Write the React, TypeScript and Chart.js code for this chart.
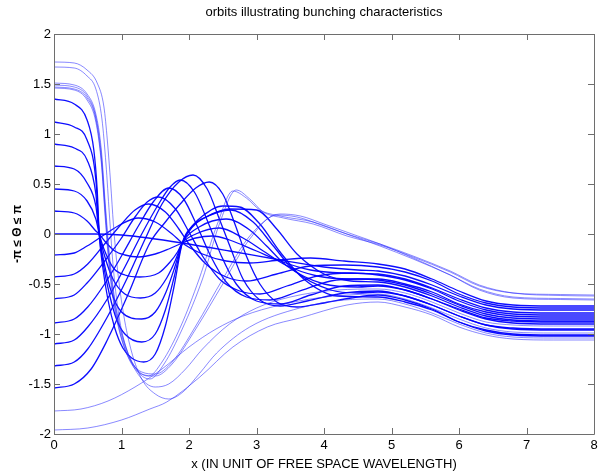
import React, { useEffect, useRef } from "react";
import { Chart, registerables } from "chart.js";

Chart.register(...registerables);

// ---- axis ticks ----
const xTicks = [0, 1, 2, 3, 4, 5, 6, 7, 8];
const yTicks = [-2, -1.5, -1, -0.5, 0, 0.5, 1, 1.5, 2];
const yTickLabels = ["-2", "-1.5", "-1", "-0.5", "0", "0.5", "1", "1.5", "2"];

const titleText = "orbits illustrating bunching characteristics";
const xTitle = "x (IN UNIT OF FREE SPACE WAVELENGTH)";
const yTitle = "-\u03C0 \u2264 \u0398 \u2264 \u03C0";

// ---- orbits: [x, theta] pairs ----
// thin orbits starting high
const orbitH1 = [[0,1.72],[0.3,1.71],[0.49,1.64],[0.64,1.51],[0.74,1.27],[0.79,0.94],[0.84,0.5],[0.88,0.1],[0.94,-0.35],[1.03,-0.8],[1.15,-1.18],[1.3,-1.45],[1.5,-1.6],[1.7,-1.65],[1.91,-1.58],[2.15,-1.4],[2.41,-1.19],[2.9,-0.93],[3.64,-0.74],[4.3,-0.66],[4.8,-0.65],[5.2,-0.7],[5.6,-0.79],[6.0,-0.9],[6.4,-0.99],[6.8,-1.03],[7.4,-1.04],[8,-1.04]];
const orbitH2 = [[0,1.67],[0.3,1.66],[0.49,1.58],[0.62,1.45],[0.71,1.15],[0.77,0.7],[0.82,0.2],[0.88,-0.35],[0.97,-0.85],[1.1,-1.2],[1.3,-1.45],[1.5,-1.53],[1.7,-1.5],[1.95,-1.35],[2.2,-1.15],[2.6,-0.9],[3.0,-0.74],[3.5,-0.63],[4.2,-0.56],[4.8,-0.55],[5.2,-0.59],[5.6,-0.68],[6.0,-0.79],[6.4,-0.88],[6.8,-0.91],[7.4,-0.92],[8,-0.92]];
const orbitH3 = [[0,1.51],[0.3,1.49],[0.49,1.4],[0.62,1.2],[0.7,0.85],[0.76,0.3],[0.82,-0.2],[0.9,-0.65],[1.05,-1.1],[1.25,-1.38],[1.42,-1.45],[1.63,-1.3],[1.9,-0.95],[2.2,-0.45],[2.45,0.1],[2.7,0.44],[2.9,0.35],[3.1,0.22],[3.4,0.16],[3.84,0.1],[4.34,-0.02],[4.83,-0.11],[5.32,-0.23],[5.87,-0.38],[6.3,-0.52],[6.8,-0.59],[7.5,-0.605],[8,-0.61]];
const orbitH4 = [[0,1.49],[0.3,1.47],[0.49,1.38],[0.62,1.17],[0.7,0.8],[0.76,0.25],[0.82,-0.25],[0.9,-0.68],[1.05,-1.12],[1.25,-1.37],[1.4,-1.42],[1.6,-1.28],[1.88,-0.92],[2.15,-0.45],[2.42,0.1],[2.65,0.43],[2.85,0.36],[3.05,0.24],[3.35,0.18],[3.84,0.12],[4.34,0.0],[4.83,-0.1],[5.32,-0.22],[5.87,-0.37],[6.3,-0.51],[6.8,-0.59],[7.5,-0.615],[8,-0.62]];
const orbitH5 = [[0,1.47],[0.3,1.45],[0.49,1.36],[0.62,1.15],[0.7,0.75],[0.76,0.2],[0.82,-0.3],[0.9,-0.72],[1.05,-1.15],[1.3,-1.4],[1.5,-1.42],[1.75,-1.3],[2.1,-0.95],[2.5,-0.5],[2.9,-0.05],[3.3,0.19],[3.6,0.17],[4.0,0.08],[4.5,-0.04],[4.83,-0.12],[5.32,-0.25],[5.87,-0.41],[6.3,-0.55],[6.8,-0.63],[7.5,-0.645],[8,-0.65]];
const orbitH6 = [[0,1.46],[0.3,1.44],[0.49,1.34],[0.62,1.12],[0.7,0.72],[0.76,0.15],[0.82,-0.35],[0.9,-0.75],[1.05,-1.15],[1.3,-1.38],[1.5,-1.4],[1.75,-1.28],[2.1,-0.92],[2.5,-0.45],[2.9,-0.02],[3.35,0.2],[3.65,0.18],[4.0,0.1],[4.5,-0.02],[4.83,-0.1],[5.32,-0.24],[5.87,-0.41],[6.3,-0.56],[6.8,-0.64],[7.5,-0.655],[8,-0.66]];
// dark orbits, starting above zero
const orbitP6 = [[0,1.35],[0.3,1.3],[0.49,1.14],[0.59,0.84],[0.64,0.44],[0.67,0.0],[0.72,-0.32],[0.8,-0.66],[0.9,-0.94],[1.02,-1.14],[1.15,-1.24],[1.33,-1.28],[1.5,-1.2],[1.65,-0.92],[1.78,-0.52],[1.9,-0.09],[2.05,0.08],[2.25,0.17],[2.6,0.25],[3.0,0.24],[3.3,0.05],[3.6,-0.2],[4.0,-0.4],[4.4,-0.47],[4.8,-0.48],[5.2,-0.53],[5.6,-0.62],[6.0,-0.73],[6.4,-0.82],[6.8,-0.86],[7.4,-0.87],[8,-0.87]];
const orbitP5 = [[0,1.12],[0.3,1.07],[0.49,0.94],[0.62,0.54],[0.67,0.0],[0.73,-0.3],[0.82,-0.6],[0.93,-0.86],[1.05,-1.0],[1.3,-1.08],[1.5,-1.0],[1.65,-0.76],[1.78,-0.43],[1.9,-0.09],[2.05,0.08],[2.2,0.18],[2.5,0.28],[2.75,0.27],[3.05,0.1],[3.35,-0.18],[3.7,-0.45],[4.2,-0.62],[4.8,-0.63],[5.2,-0.68],[5.6,-0.76],[6.0,-0.88],[6.4,-0.96],[6.8,-1.0],[7.4,-1.01],[8,-1.01]];
const orbitP4 = [[0,0.9],[0.3,0.86],[0.49,0.74],[0.62,0.4],[0.67,0.0],[0.74,-0.28],[0.85,-0.58],[1.0,-0.78],[1.3,-0.85],[1.5,-0.78],[1.66,-0.58],[1.79,-0.33],[1.9,-0.09],[2.05,0.07],[2.2,0.15],[2.62,0.24],[2.95,0.12],[3.25,-0.12],[3.55,-0.36],[4.1,-0.56],[4.5,-0.59],[4.8,-0.58],[5.2,-0.62],[5.6,-0.71],[6.0,-0.82],[6.4,-0.91],[6.8,-0.94],[7.4,-0.95],[8,-0.95]];
const orbitP3 = [[0,0.68],[0.3,0.65],[0.49,0.51],[0.62,0.28],[0.67,0.0],[0.75,-0.22],[0.88,-0.46],[1.05,-0.6],[1.28,-0.64],[1.5,-0.59],[1.67,-0.44],[1.8,-0.26],[1.9,-0.09],[2.15,0.07],[2.55,0.15],[2.9,0.04],[3.15,-0.12],[3.45,-0.32],[4.0,-0.5],[4.5,-0.53],[4.8,-0.52],[5.2,-0.56],[5.6,-0.65],[6.0,-0.75],[6.4,-0.84],[6.8,-0.87],[7.4,-0.88],[8,-0.88]];
const orbitP2 = [[0,0.45],[0.3,0.43],[0.49,0.33],[0.62,0.15],[0.67,0.0],[0.74,-0.15],[0.88,-0.34],[1.05,-0.41],[1.27,-0.43],[1.55,-0.39],[1.72,-0.28],[1.83,-0.18],[1.9,-0.09],[2.1,0.0],[2.45,0.06],[2.8,-0.04],[3.1,-0.17],[3.4,-0.3],[3.9,-0.42],[4.4,-0.45],[4.8,-0.45],[5.2,-0.5],[5.6,-0.58],[6.0,-0.7],[6.4,-0.78],[6.8,-0.82],[7.4,-0.83],[8,-0.83]];
const orbitP1 = [[0,0.23],[0.3,0.21],[0.49,0.13],[0.62,0.03],[0.67,0.0],[0.75,-0.07],[0.9,-0.17],[1.05,-0.21],[1.25,-0.23],[1.5,-0.2],[1.7,-0.15],[1.9,-0.09],[2.1,-0.04],[2.35,-0.02],[2.6,-0.06],[3.0,-0.17],[3.35,-0.27],[3.8,-0.36],[4.3,-0.39],[4.8,-0.4],[5.2,-0.45],[5.6,-0.54],[6.0,-0.65],[6.4,-0.74],[6.8,-0.78],[7.4,-0.79],[8,-0.79]];
const orbitZ0 = [[0,0],[0.6,0],[1.0,-0.01],[1.4,-0.04],[1.9,-0.09],[2.6,-0.17],[3.35,-0.26],[4.0,-0.33],[4.5,-0.36],[4.8,-0.37],[5.2,-0.42],[5.6,-0.51],[6.0,-0.62],[6.4,-0.71],[6.8,-0.75],[7.4,-0.76],[8,-0.76]];
// dark orbits, starting below zero
const orbitN1 = [[0,-0.21],[0.3,-0.19],[0.49,-0.12],[0.74,-0.01],[1.0,0.1],[1.25,0.16],[1.5,0.12],[1.75,0.0],[1.9,-0.09],[2.2,-0.2],[2.55,-0.27],[2.9,-0.29],[3.35,-0.26],[3.8,-0.24],[4.3,-0.27],[4.8,-0.3],[5.2,-0.35],[5.6,-0.45],[6.0,-0.57],[6.4,-0.67],[6.8,-0.71],[7.4,-0.72],[8,-0.72]];
const orbitN2 = [[0,-0.43],[0.3,-0.4],[0.5,-0.3],[0.75,-0.1],[1.0,0.1],[1.2,0.24],[1.4,0.3],[1.65,0.22],[1.85,0.05],[2.0,-0.1],[2.25,-0.3],[2.55,-0.43],[2.85,-0.47],[3.3,-0.4],[3.8,-0.32],[4.3,-0.31],[4.8,-0.33],[5.2,-0.38],[5.6,-0.47],[6.0,-0.6],[6.4,-0.69],[6.8,-0.73],[7.4,-0.74],[8,-0.74]];
const orbitN3 = [[0,-0.65],[0.3,-0.61],[0.49,-0.49],[0.74,-0.28],[0.99,-0.05],[1.2,0.17],[1.38,0.32],[1.55,0.37],[1.8,0.25],[2.0,0.02],[2.2,-0.22],[2.45,-0.45],[2.75,-0.57],[3.05,-0.6],[3.45,-0.52],[3.9,-0.42],[4.4,-0.39],[4.8,-0.41],[5.2,-0.46],[5.6,-0.55],[6.0,-0.67],[6.4,-0.76],[6.8,-0.8],[7.4,-0.81],[8,-0.81]];
const orbitN4 = [[0,-0.89],[0.3,-0.85],[0.5,-0.73],[0.75,-0.5],[1.0,-0.22],[1.25,0.08],[1.48,0.33],[1.7,0.46],[1.92,0.35],[2.12,0.08],[2.32,-0.22],[2.55,-0.48],[2.85,-0.63],[3.2,-0.66],[3.6,-0.58],[4.1,-0.47],[4.5,-0.45],[4.8,-0.46],[5.2,-0.51],[5.6,-0.6],[6.0,-0.71],[6.4,-0.8],[6.8,-0.84],[7.4,-0.85],[8,-0.85]];
const orbitN5 = [[0,-1.1],[0.3,-1.06],[0.5,-0.93],[0.79,-0.65],[1.05,-0.33],[1.3,0.0],[1.55,0.3],[1.72,0.47],[1.87,0.54],[2.08,0.42],[2.28,0.12],[2.48,-0.22],[2.7,-0.5],[3.0,-0.67],[3.35,-0.7],[3.8,-0.61],[4.3,-0.52],[4.8,-0.51],[5.2,-0.56],[5.6,-0.65],[6.0,-0.76],[6.4,-0.85],[6.8,-0.89],[7.4,-0.9],[8,-0.9]];
const orbitN6 = [[0,-1.32],[0.3,-1.28],[0.5,-1.15],[0.79,-0.83],[1.1,-0.42],[1.35,-0.05],[1.6,0.3],[1.85,0.52],[2.06,0.59],[2.27,0.45],[2.45,0.15],[2.61,-0.13],[2.8,-0.45],[3.05,-0.66],[3.35,-0.72],[3.75,-0.67],[4.3,-0.59],[4.8,-0.57],[5.2,-0.62],[5.6,-0.71],[6.0,-0.82],[6.4,-0.91],[6.8,-0.95],[7.4,-0.96],[8,-0.96]];
const orbitN7 = [[0,-1.54],[0.3,-1.5],[0.55,-1.35],[0.79,-1.06],[1.1,-0.6],[1.42,-0.09],[1.65,0.12],[1.87,0.3],[2.1,0.46],[2.3,0.52],[2.5,0.4],[2.68,0.1],[2.85,-0.22],[3.05,-0.5],[3.3,-0.68],[3.6,-0.73],[4.0,-0.69],[4.4,-0.64],[4.8,-0.61],[5.2,-0.66],[5.6,-0.75],[6.0,-0.88],[6.4,-0.97],[6.8,-1.01],[7.4,-1.02],[8,-1.02]];
// thin orbits starting low
const orbitL1 = [[0,-1.77],[0.4,-1.75],[0.8,-1.67],[1.2,-1.53],[1.6,-1.35],[2.0,-1.13],[2.4,-0.95],[2.8,-0.82],[3.35,-0.71],[3.9,-0.64],[4.34,-0.61],[4.8,-0.6],[5.2,-0.65],[5.6,-0.74],[6.0,-0.85],[6.4,-0.94],[6.8,-0.98],[7.4,-0.99],[8,-0.99]];
const orbitL2 = [[0,-1.96],[0.5,-1.94],[1.0,-1.86],[1.42,-1.75],[1.67,-1.68],[2.16,-1.43],[2.65,-1.13],[3.16,-0.93],[3.64,-0.84],[4.34,-0.71],[4.8,-0.68],[5.2,-0.73],[5.6,-0.81],[6.0,-0.93],[6.4,-1.01],[6.8,-1.05],[7.4,-1.06],[8,-1.06]];

const thinOrbits = [orbitH1, orbitH2, orbitH3, orbitH4, orbitH5, orbitH6, orbitL1, orbitL2];
const darkOrbits = [orbitP6, orbitP5, orbitP4, orbitP3, orbitP2, orbitP1, orbitZ0, orbitN1, orbitN2, orbitN3, orbitN4, orbitN5, orbitN6, orbitN7];

const FONT = "'Liberation Sans', Arial, sans-serif";

const axesPlugin = {
  id: "matlabAxes",
  afterDraw(chart: any) {
    const { ctx, chartArea } = chart;
    const xs = chart.scales.x;
    const ys = chart.scales.y;
    const { left, right, top, bottom } = chartArea;
    ctx.save();
    ctx.strokeStyle = "#6e6e6e";
    ctx.lineWidth = 1;
    ctx.beginPath();
    ctx.rect(Math.round(left) + 0.5, Math.round(top) + 0.5, Math.round(right - left), Math.round(bottom - top));
    ctx.stroke();
    const tl = 6;
    ctx.beginPath();
    xTicks.forEach((v) => {
      const px = Math.round(xs.getPixelForValue(v)) + 0.5;
      ctx.moveTo(px, bottom);
      ctx.lineTo(px, bottom - tl);
      ctx.moveTo(px, top);
      ctx.lineTo(px, top + tl);
    });
    yTicks.forEach((v) => {
      const py = Math.round(ys.getPixelForValue(v)) + 0.5;
      ctx.moveTo(left, py);
      ctx.lineTo(left + tl, py);
      ctx.moveTo(right, py);
      ctx.lineTo(right - tl, py);
    });
    ctx.stroke();

    ctx.fillStyle = "#000";
    ctx.font = `13px ${FONT}`;
    ctx.textAlign = "center";
    ctx.textBaseline = "top";
    xTicks.forEach((v) => {
      ctx.fillText(String(v), xs.getPixelForValue(v), bottom + 5);
    });
    ctx.textAlign = "right";
    ctx.textBaseline = "middle";
    yTicks.forEach((v, i) => {
      ctx.fillText(yTickLabels[i], left - 3, ys.getPixelForValue(v));
    });
    ctx.textAlign = "center";
    ctx.textBaseline = "middle";
    ctx.fillText(xTitle, (left + right) / 2, bottom + 30);
    ctx.fillText(titleText, (left + right) / 2, 12);
    ctx.save();
    ctx.translate(18, (top + bottom) / 2);
    ctx.rotate(-Math.PI / 2);
    ctx.font = `bold 12px ${FONT}`;
    ctx.fillText(yTitle, 0, 0);
    ctx.restore();
    ctx.restore();
  },
};

export default function App() {
  const canvasRef = useRef<HTMLCanvasElement | null>(null);
  useEffect(() => {
    const canvas = canvasRef.current;
    if (!canvas) return;
    const toPts = (arr: number[][]) => arr.map(([x, y]) => ({ x, y }));
    const datasets: any[] = [];
    thinOrbits.forEach((o) => {
      datasets.push({
        data: toPts(o),
        borderColor: "rgba(40,40,255,0.55)",
        borderWidth: 1,
        pointRadius: 0,
        showLine: true,
        fill: false,
        cubicInterpolationMode: "monotone",
        tension: 0.4,
      });
    });
    darkOrbits.forEach((o) => {
      datasets.push({
        data: toPts(o),
        borderColor: "rgba(0,0,255,0.95)",
        borderWidth: 1.3,
        pointRadius: 0,
        showLine: true,
        fill: false,
        cubicInterpolationMode: "monotone",
        tension: 0.4,
      });
    });
    const chart = new Chart(canvas, {
      type: "scatter",
      data: { datasets },
      options: {
        animation: false,
        responsive: false,
        events: [],
        layout: { padding: { left: 54, top: 34, right: 6, bottom: 39 } },
        plugins: { legend: { display: false }, tooltip: { enabled: false }, title: { display: false } },
        scales: {
          x: { type: "linear", min: 0, max: 8, display: false },
          y: { type: "linear", min: -2, max: 2, display: false },
        },
      },
      plugins: [axesPlugin],
    });
    return () => chart.destroy();
  }, []);
  return (
    <div style={{ position: "absolute", left: 0, top: 0, width: 600, height: 473, background: "#fff" }}>
      <canvas ref={canvasRef} width={600} height={473} />
    </div>
  );
}
